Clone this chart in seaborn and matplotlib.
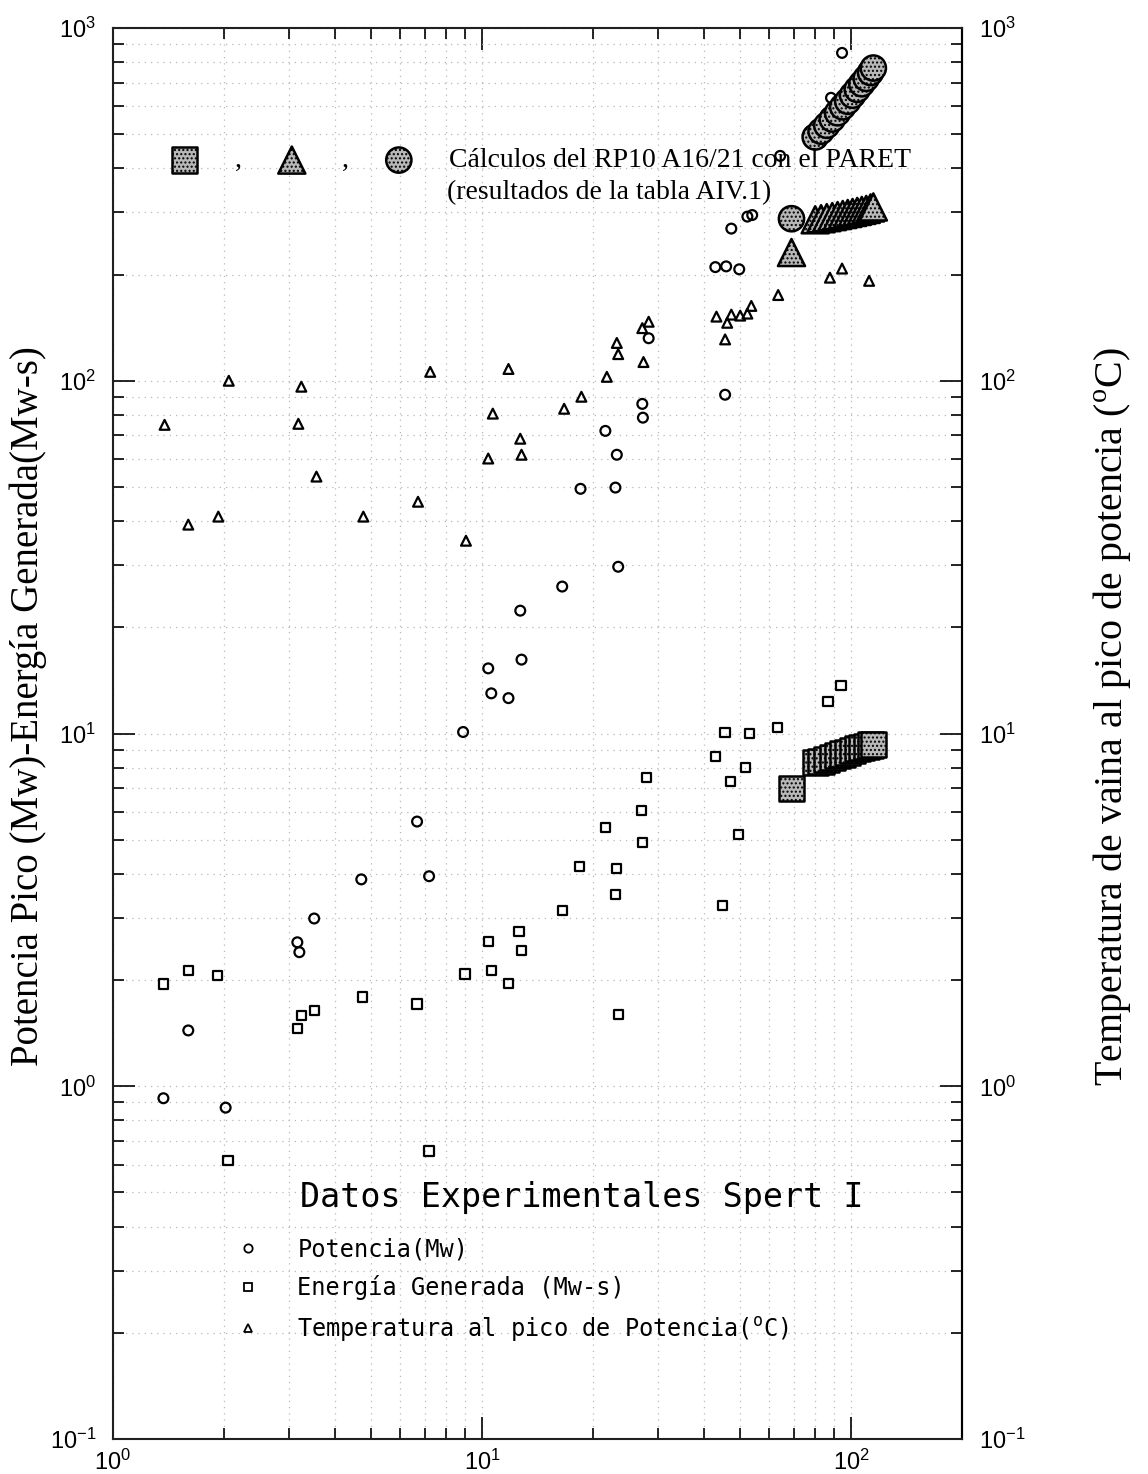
"""
Spert I experimental data vs PARET calculations (RP10 A16/21), log-log.
"""
import matplotlib
matplotlib.use("Agg")
import matplotlib.pyplot as plt
import seaborn as sns
from matplotlib.lines import Line2D
from matplotlib.ticker import NullFormatter
from matplotlib.font_manager import FontProperties

# ─── Datos experimentales Spert I ──────────────────────────────────────
pot_x = [1.37, 1.60, 2.02, 3.16, 3.20, 3.51, 4.71, 6.67, 7.19, 8.89, 10.4, 10.6,
         11.8, 12.7, 12.8, 16.5, 18.5, 21.6, 23.0, 23.2, 23.4, 27.2, 27.3, 28.3,
         42.9, 45.6, 45.9, 47.4, 49.8, 52.4, 54.0, 64.3, 88.3, 94.6]
pot_y = [0.925, 1.44, 0.87, 2.56, 2.40, 2.99, 3.86, 5.63, 3.94, 10.1, 15.3, 13.0,
         12.6, 22.3, 16.2, 26.1, 49.4, 72.1, 49.8, 61.7, 29.7, 86.0, 78.6, 132,
         210, 91.3, 211, 270, 207, 292, 295, 434, 634, 850]

ener_x = [1.37, 1.60, 1.92, 2.05, 3.16, 3.24, 3.51, 4.74, 6.67, 7.19, 9.0, 10.4,
          10.6, 11.8, 12.6, 12.8, 16.5, 18.4, 21.6, 23.0, 23.2, 23.4, 27.1, 27.2,
          27.9, 42.9, 44.8, 45.6, 47.1, 49.5, 51.7, 53.0, 63.1, 86.7, 94.0]
ener_y = [1.95, 2.13, 2.06, 0.617, 1.46, 1.59, 1.64, 1.79, 1.71, 0.655, 2.08, 2.57,
          2.13, 1.96, 2.75, 2.43, 3.15, 4.2, 5.42, 3.5, 4.15, 1.60, 6.05, 4.91,
          7.5, 8.61, 3.26, 10.07, 7.31, 5.18, 8.0, 10.0, 10.4, 12.3, 13.7]

temp_x = [1.38, 1.60, 1.93, 2.06, 3.18, 3.24, 3.56, 4.77, 6.71, 7.24, 9.05, 10.4,
          10.7, 11.8, 12.7, 12.8, 16.7, 18.6, 21.8, 23.2, 23.4, 27.2, 27.4, 28.3,
          43.2, 45.6, 46.2, 47.4, 50.1, 52.4, 53.7, 63.5, 87.7, 94.6, 112]
temp_y = [75.0, 39.1, 41.2, 100, 75.5, 96.2, 53.5, 41.2, 45.4, 106, 35.2, 60.2,
          80.7, 108, 68.5, 61.7, 83.3, 90.1, 102.6, 128, 119, 141, 113, 147,
          152, 131, 146, 154, 153, 155, 163, 175, 196, 208, 192]

# ─── Cálculos PARET (tabla AIV.1) ──────────────────────────────────────
paret_x = [69, 80, 83, 86, 89, 92, 95, 98, 101, 104, 107, 110, 113, 115]
paret_pot = [288, 491, 510, 530, 552, 575, 598, 620, 645, 670, 695, 720, 748, 770]
paret_temp = [231, 286, 288, 290, 292, 294, 296, 298, 300, 302, 304, 306, 309, 311]
paret_ener = [6.98, 8.27, 8.35, 8.45, 8.55, 8.65, 8.75, 8.85, 8.95, 9.05, 9.12,
              9.2, 9.28, 9.3]

legend_labels = ['Potencia(Mw)', 'Energía Generada (Mw-s)',
                 'Temperatura al pico de Potencia(${}^{\\mathdefault{o}}$C)']

sns.set_theme(style="ticks")
plt.rcParams['font.family'] = ['Liberation Sans', 'DejaVu Sans']
plt.rcParams['hatch.linewidth'] = 1.0
plt.rcParams['text.color'] = 'black'
plt.rcParams['axes.labelcolor'] = 'black'

fig = plt.figure(figsize=(11.48, 14.74), dpi=100)
ax = fig.add_axes([0.0984, 0.0237, 0.7396, 0.9573])

hollow = dict(facecolor='none', edgecolor='black', linewidth=1.6)
sns.scatterplot(x=pot_x, y=pot_y, marker='o', s=50, ax=ax, **hollow)
sns.scatterplot(x=ener_x, y=ener_y, marker='s', s=45, ax=ax, **hollow)
sns.scatterplot(x=temp_x, y=temp_y, marker='^', s=50, ax=ax, **hollow)

filled = dict(facecolor='0.72', edgecolor='black', linewidth=1.8, hatch='....')
sq = sns.scatterplot(x=paret_x, y=paret_ener, marker='s', s=330, ax=ax, **filled).collections[-1]
tri = sns.scatterplot(x=paret_x, y=paret_temp, marker='^', s=380, ax=ax, **filled).collections[-1]
circ = sns.scatterplot(x=paret_x, y=paret_pot, marker='o', s=330, ax=ax, **filled).collections[-1]

ax.set_xscale('log')
ax.set_yscale('log')
ax.set_xlim(1, 200)
ax.set_ylim(0.1, 1000)
ax.xaxis.set_minor_formatter(NullFormatter())
ax.yaxis.set_minor_formatter(NullFormatter())
ax.grid(which='both', color='0.72', linestyle=(0, (1, 4)), linewidth=0.9)

for s in ax.spines.values():
    s.set_color('black')
    s.set_linewidth(1.5)
ax.tick_params(which='both', direction='in', top=True, bottom=True, left=True,
               right=False, colors='black', labelsize=17, width=1.2)
ax.tick_params(which='major', length=16)
ax.tick_params(which='minor', length=8)
ax.tick_params(axis='y', which='major', pad=12)
ax.tick_params(axis='x', which='major', pad=8)

ax.set_ylabel('Potencia Pico (Mw)-Energía Generada(Mw-s)',
              family='Liberation Serif', fontsize=28, labelpad=2)
ax.yaxis.label.set_y(0.5195)

ax2 = ax.twinx()
ax2.set_yscale('log')
ax2.set_ylim(0.1, 1000)
ax2.yaxis.set_minor_formatter(NullFormatter())
ax2.spines['right'].set_linewidth(1.5)
ax2.spines['right'].set_color('black')
ax2.tick_params(which='both', direction='in', colors='black', labelsize=17, width=1.2)
ax2.tick_params(which='major', length=16, pad=12)
ax2.tick_params(which='minor', length=8)
ax2.set_ylabel('Temperatura de vaina al pico de potencia (${}^{\\mathdefault{o}}$C)',
               family='Liberation Serif', fontsize=28.8, rotation=90, labelpad=48)
ax2.yaxis.label.set_y(0.5117)

# ─── Leyenda PARET ────────────────────────────────────────────────────
serif = FontProperties(family='Liberation Serif', size=20)
leg1 = ax.legend(handles=[sq, tri, circ],
                 labels=[',', ',', 'Cálculos del RP10 A16/21 con el PARET'],
                 ncol=3, loc='center left', bbox_to_anchor=(0.065, 0.906),
                 frameon=False, prop=serif, handlelength=1.2, handletextpad=1.2,
                 columnspacing=1.2, borderpad=0, borderaxespad=0)
ax.add_artist(leg1)
ax.text(0.393, 0.883, '(resultados de la tabla AIV.1)', transform=ax.transAxes,
        fontproperties=serif, va='center', ha='left')

# ─── Leyenda datos experimentales ─────────────────────────────────────
mono_title = FontProperties(family='DejaVu Sans Mono', size=24)
mono = FontProperties(family='DejaVu Sans Mono', size=17)
ax.text(0.22, 0.171, 'Datos Experimentales Spert I', transform=ax.transAxes,
        fontproperties=mono_title, va='center', ha='left')
handles = [Line2D([], [], marker=m, ls='none', mfc='none', mec='black', ms=6, mew=1.3)
           for m in ['o', 's', '^']]
ax.legend(handles=handles, labels=legend_labels, loc='upper left',
          bbox_to_anchor=(0.145, 0.143), frameon=False, prop=mono,
          handlelength=1.0, handletextpad=1.6, labelspacing=0.6,
          borderpad=0, borderaxespad=0)

plt.savefig('out.png', dpi=100)
